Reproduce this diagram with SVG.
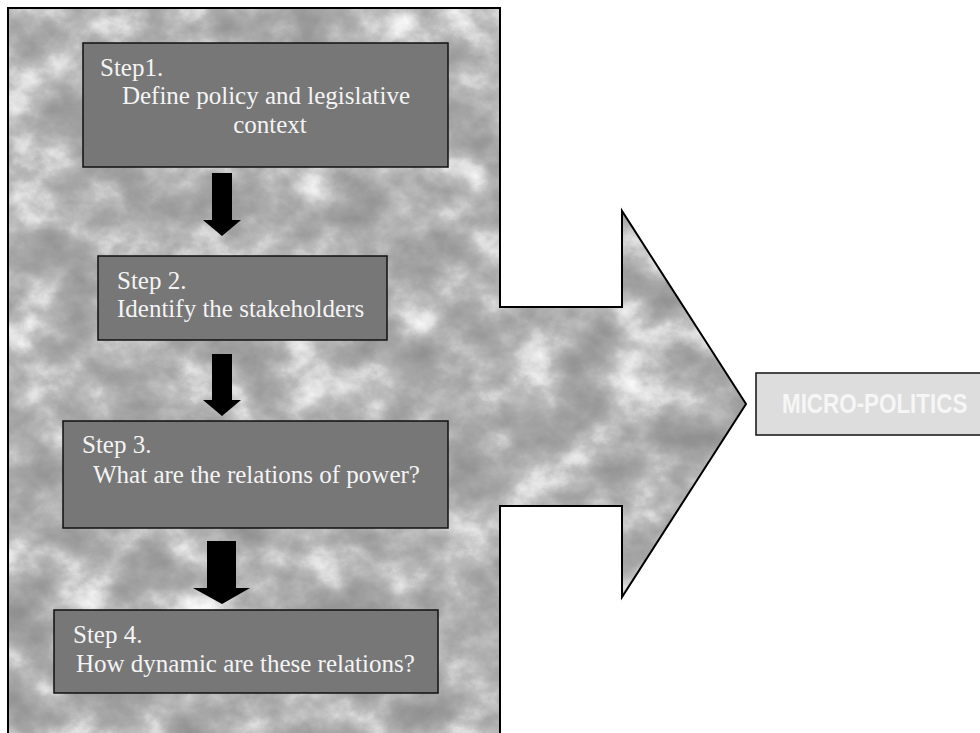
<svg xmlns="http://www.w3.org/2000/svg" width="980" height="733" viewBox="0 0 980 733">
  <style>
    .step rect { fill: #777777; stroke: #111111; stroke-width: 1.5; }
    .step text { font-family: "Liberation Serif", "Times New Roman", serif; font-size: 25px; fill: #f4f4f4; }
    .down { fill: #000000; }
  </style>
  <defs>
    <!-- cloudy grey texture for the big arrow body -->
    <filter id="clouds" x="0" y="0" width="1" height="1" filterUnits="objectBoundingBox" color-interpolation-filters="sRGB">
      <feTurbulence type="fractalNoise" baseFrequency="0.018 0.022" numOctaves="6" seed="7" result="noise"/>
      <feColorMatrix in="noise" type="matrix" result="grey"
        values="1.4 0 0 0 -0.2
                1.4 0 0 0 -0.2
                1.4 0 0 0 -0.2
                0 0 0 0 1"/>
      <feComponentTransfer in="grey">
        <feFuncR type="table" tableValues="0.57 0.61 0.66 0.74 0.87 0.97"/>
        <feFuncG type="table" tableValues="0.57 0.61 0.66 0.74 0.87 0.97"/>
        <feFuncB type="table" tableValues="0.57 0.61 0.66 0.74 0.87 0.97"/>
      </feComponentTransfer>
    </filter>
    <clipPath id="arrowClip">
      <path d="M8,8 H500 V307 H622 V211 L746,404 L622,597 V506 H500 V745 H8 Z"/>
    </clipPath>
  </defs>

  <!-- big arrow with cloud fill -->
  <g id="big-arrow">
    <g clip-path="url(#arrowClip)">
      <rect x="0" y="0" width="760" height="745" fill="#a0a0a0" filter="url(#clouds)"/>
    </g>
    <path d="M8,8 H500 V307 H622 V211 L746,404 L622,597 V506 H500 V745 H8 Z" fill="none" stroke="#000" stroke-width="2"/>
  </g>

  <!-- connectors between steps -->
  <g id="connectors">
    <polygon class="down" points="212,173 232,173 232,220 241,220 222,236 203,220 212,220"/>
    <polygon class="down" points="212,354 232,354 232,400 241,400 222,416 203,400 212,400"/>
    <polygon class="down" points="207,541 236,541 236,588 250,588 222,604 193,588 207,588"/>
  </g>

  <g id="step1" class="step">
    <rect x="83" y="43" width="365" height="124"/>
    <text x="100" y="76">Step1.</text>
    <text x="266" y="104" text-anchor="middle">Define policy and legislative</text>
    <text x="270" y="133" text-anchor="middle">context</text>
  </g>

  <g id="step2" class="step">
    <rect x="98" y="256" width="289" height="84"/>
    <text x="117" y="289">Step 2.</text>
    <text x="117" y="317">Identify the stakeholders</text>
  </g>

  <g id="step3" class="step">
    <rect x="63" y="421" width="385" height="107"/>
    <text x="82" y="453">Step 3.</text>
    <text x="93" y="483">What are the relations of power?</text>
  </g>

  <g id="step4" class="step">
    <rect x="54" y="610" width="384" height="83"/>
    <text x="73" y="643">Step 4.</text>
    <text x="76" y="672">How dynamic are these relations?</text>
  </g>

  <g id="micro-politics">
    <rect x="756" y="373" width="230" height="62" fill="#dddddd" stroke="#111111" stroke-width="1.5"/>
    <!-- narrow bold face, emulated with a horizontal squeeze -->
    <text transform="translate(782,413) scale(0.8,1)" font-family="'Liberation Sans', Arial, sans-serif" font-weight="bold" font-size="28" fill="#f6f6f6">MICRO-POLITICS</text>
  </g>
</svg>
